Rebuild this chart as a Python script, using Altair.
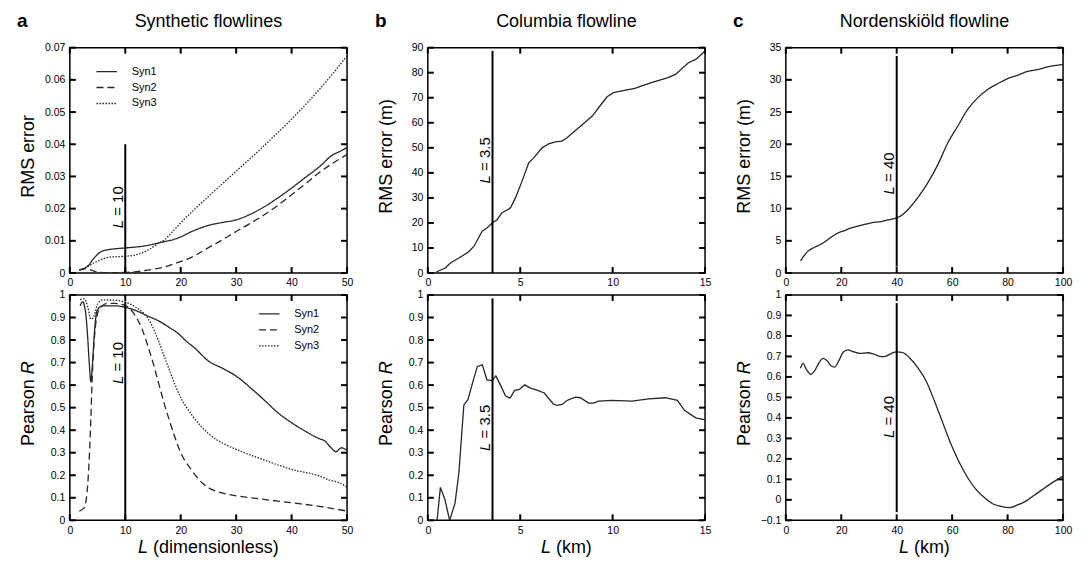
import altair as alt
import pandas as pd

FONT = "Liberation Sans"
INK = "#262626"
W, H = 278, 226
TICK = 6  # inward tick length in pixels

SERIES = ["Syn1", "Syn2", "Syn3"]

# a, top: RMS error vs L (dimensionless)
syn1_rms_L = [1.7, 2.5, 3.2, 4.4, 5.6, 6.5, 8, 10, 13.4, 16.4, 19.4, 22.4, 25, 27.5, 30, 32.5, 35, 37.5, 40, 42.5, 45, 47.5, 48.5, 50]
syn1_rms = [0.0010, 0.0013, 0.0021, 0.0047, 0.0066, 0.0071, 0.0075, 0.0078, 0.0084, 0.0095, 0.0108, 0.0132, 0.0148, 0.0157, 0.0165, 0.0182, 0.0205, 0.0233, 0.0264, 0.0297, 0.0330, 0.0368, 0.0376, 0.0390]
syn2_rms_L = [1.7, 2.8, 4.0, 5.5, 7, 10, 12, 14, 16.4, 19.4, 22.4, 25, 27.5, 30, 32.5, 35, 37.5, 40, 42.5, 45, 47.5, 50]
syn2_rms = [0.0009, 0.0014, 0.0008, 0.0002, 0.0001, 0.0002, 0.0004, 0.0009, 0.0016, 0.0032, 0.0053, 0.0079, 0.0103, 0.0129, 0.0154, 0.0180, 0.0210, 0.0243, 0.0277, 0.0312, 0.0342, 0.0368]
syn3_rms_L = [1.7, 3.2, 4.4, 5.3, 6.2, 7.4, 10, 12.2, 14, 15.8, 17, 18.5, 20, 22.5, 25, 27.5, 30, 32.5, 35, 37.5, 40, 42.5, 45, 47.5, 50]
syn3_rms = [0.0010, 0.0020, 0.0032, 0.0039, 0.0045, 0.0050, 0.0052, 0.0058, 0.0070, 0.0090, 0.0102, 0.0128, 0.0156, 0.0198, 0.0238, 0.0277, 0.0316, 0.0355, 0.0395, 0.0436, 0.0478, 0.0523, 0.0570, 0.0621, 0.0675]

# a, bottom: Pearson R vs L (dimensionless)
syn1_R_L = [1.85, 2.3, 2.8, 3.2, 3.5, 3.8, 4.1, 4.4, 4.9, 5.9, 8, 10, 12, 14, 16, 18, 19.5, 21, 22.5, 25, 27.5, 30, 32.5, 35, 37.5, 40, 42.5, 45, 46, 47, 48, 49, 50]
syn1_R = [0.951, 0.969, 0.93, 0.82, 0.70, 0.615, 0.70, 0.82, 0.93, 0.952, 0.952, 0.945, 0.93, 0.907, 0.885, 0.855, 0.83, 0.795, 0.765, 0.707, 0.675, 0.64, 0.59, 0.535, 0.478, 0.433, 0.395, 0.362, 0.352, 0.325, 0.305, 0.322, 0.31]
syn2_R_L = [1.7, 2.6, 3.2, 3.68, 4.1, 4.7, 5.3, 6.8, 8, 10, 11, 12, 13, 14, 15, 16, 17, 18, 19, 20, 22, 24, 26, 28, 30, 35, 40, 45, 50]
syn2_R = [0.041, 0.056, 0.15, 0.374, 0.67, 0.877, 0.936, 0.963, 0.963, 0.953, 0.935, 0.90, 0.85, 0.78, 0.70, 0.61, 0.52, 0.44, 0.365, 0.30, 0.222, 0.163, 0.133, 0.118, 0.109, 0.093, 0.078, 0.062, 0.041]
syn3_R_L = [1.85, 2.6, 3.2, 3.8, 4.4, 5.0, 5.9, 8, 10, 12, 13, 14, 15, 16, 17, 18, 19, 20, 22, 25, 28, 30, 33, 35, 40, 45, 47, 48, 50]
syn3_R = [0.98, 0.983, 0.95, 0.893, 0.908, 0.96, 0.978, 0.977, 0.968, 0.944, 0.926, 0.899, 0.855, 0.796, 0.73, 0.665, 0.60, 0.545, 0.468, 0.385, 0.337, 0.315, 0.286, 0.268, 0.226, 0.197, 0.177, 0.172, 0.148]

# b: Columbia flowline
col_rms_L = [0.45, 0.95, 1.22, 1.68, 2.2, 2.5, 2.94, 3.2, 3.48, 3.75, 4.0, 4.47, 4.74, 5.1, 5.46, 5.73, 6.18, 6.54, 6.9, 7.26, 7.53, 8.16, 8.9, 9.24, 9.7, 10.05, 10.5, 11.2, 12.1, 13.0, 13.4, 14.1, 14.5, 15.0]
col_rms = [0.4, 2.0, 4.0, 6.0, 8.4, 10.7, 16.7, 18.0, 20.0, 21.3, 24.0, 26.0, 30.0, 36.7, 44.0, 46.0, 50.0, 51.6, 52.4, 52.7, 54.0, 58.0, 62.7, 66.0, 70.4, 72.0, 72.7, 73.7, 76.0, 78.0, 79.3, 84.0, 85.3, 88.7]
col_R_L = [0.5, 0.68, 0.92, 1.18, 1.47, 1.68, 1.95, 2.17, 2.42, 2.68, 2.95, 3.2, 3.48, 3.68, 3.93, 4.2, 4.45, 4.7, 4.95, 5.24, 5.53, 5.9, 6.3, 6.6, 6.8, 7.0, 7.26, 7.53, 7.98, 8.25, 8.7, 8.97, 9.24, 9.96, 11.05, 11.95, 12.85, 13.5, 13.9, 14.5, 15.0]
col_R = [0.0, 0.146, 0.094, 0.0, 0.075, 0.21, 0.512, 0.535, 0.61, 0.683, 0.69, 0.623, 0.62, 0.641, 0.60, 0.553, 0.542, 0.577, 0.581, 0.601, 0.588, 0.578, 0.565, 0.535, 0.515, 0.51, 0.514, 0.532, 0.547, 0.544, 0.52, 0.52, 0.529, 0.532, 0.529, 0.539, 0.544, 0.532, 0.487, 0.455, 0.446]

# c: Nordenskiöld flowline
nor_rms_L = [5.3, 8, 10.4, 12.8, 15.8, 18.2, 20.6, 23.6, 27.2, 30.8, 34.4, 38, 40, 42.2, 44.6, 47.6, 51.2, 54.8, 58.4, 62, 65.6, 69.2, 72.8, 76.4, 80, 83.6, 87.2, 90.8, 94.4, 100]
nor_rms = [1.9, 3.4, 4.0, 4.5, 5.4, 6.1, 6.5, 7.0, 7.4, 7.8, 8.0, 8.35, 8.55, 9.1, 10.1, 11.7, 14.0, 16.8, 20.2, 22.8, 25.4, 27.2, 28.5, 29.4, 30.2, 30.7, 31.3, 31.6, 32.0, 32.4]
nor_R_L = [5.3, 6.2, 7.4, 9.0, 10.4, 12, 13.4, 15, 16.4, 17.6, 19.1, 20.6, 22.4, 24.2, 26.6, 29.6, 32, 34.4, 36.2, 38, 40, 42.2, 44.6, 47.6, 50.6, 53.6, 56.6, 59.6, 62.6, 65.6, 68.6, 71.6, 74.6, 77.6, 80.6, 83.6, 86.6, 89.6, 92.6, 95.6, 100]
nor_R = [0.642, 0.666, 0.637, 0.613, 0.63, 0.67, 0.691, 0.678, 0.653, 0.648, 0.678, 0.719, 0.732, 0.724, 0.715, 0.718, 0.71, 0.699, 0.702, 0.714, 0.722, 0.719, 0.694, 0.645, 0.58, 0.483, 0.377, 0.271, 0.182, 0.108, 0.051, 0.011, -0.019, -0.032, -0.038, -0.025, -0.006, 0.022, 0.051, 0.079, 0.116]

# chosen L markers: (L, line bottom, line top, label start)
mark_a_top = (10, 0.0, 0.040, 0.0139)
mark_a_bot = (10, 0.0, 0.97, 0.605)
mark_b_top = (3.5, 0.0, 88.7, 35.8)
mark_b_bot = (3.5, 0.0, 0.985, 0.308)
mark_c_top = (40, 1.0, 33.7, 12.2)
mark_c_bot = (40, -0.06, 0.96, 0.302)

# tick values
X_A = [0, 10, 20, 30, 40, 50]
X_B = [0, 5, 10, 15]
X_C = [0, 20, 40, 60, 80, 100]
Y_A_RMS = [0, 0.01, 0.02, 0.03, 0.04, 0.05, 0.06, 0.07]
Y_R = [0, 0.1, 0.2, 0.3, 0.4, 0.5, 0.6, 0.7, 0.8, 0.9, 1]
Y_B_RMS = [0, 10, 20, 30, 40, 50, 60, 70, 80, 90]
Y_C_RMS = [0, 5, 10, 15, 20, 25, 30, 35]
Y_C_R = [-0.1, 0, 0.1, 0.2, 0.3, 0.4, 0.5, 0.6, 0.7, 0.8, 0.9, 1]

DASHES = [[1, 0], [7, 4], [1.5, 1.5]]

# ---------------- helpers ----------------
CW = {' ': .278, 'P': .667, 'e': .556, 'a': .556, 'r': .333, 's': .5, 'o': .556, 'n': .556,
      'R': .722, 'L': .556, '(': .333, ')': .333, 'd': .556, 'i': .222, 'm': .833, 'l': .222,
      'k': .5, '=': .584, '.': .278, 'M': .833, 'S': .667}


def tw(s, size):
    return sum(CW.get(c, .556) for c in s) * size


def place(parts, size):
    out, pos = [], 0.0
    for t, it in parts:
        out.append((t, it, pos))
        pos += tw(t + ' ', size)
    return out, pos - tw(' ', size)


ONE = pd.DataFrame({"k": [0]})


def axis(vals):
    return alt.Axis(values=vals, ticks=False, domain=False, grid=False, labelPadding=5,
                    labelFontSize=10.5, labelFont=FONT, labelColor="black", labelFlush=False,
                    labelOverlap=False, labelExpr="format(datum.value, '~g')", title=None)


def multi_df(pairs):
    rows = []
    for name, xs, ys in pairs:
        for a, b in zip(xs, ys):
            rows.append({"series": name, "x": a, "y": b})
    return pd.DataFrame(rows)


def panel(df, xdom, ydom, xticks, yticks, marker, note_rest, ytitle, col_title=None, letter=None,
          xtitle=None, legend_xy=None, interp="monotone"):
    xs = alt.Scale(domain=xdom, nice=False, zero=False)
    ys = alt.Scale(domain=ydom, nice=False, zero=False)
    xa, ya = axis(xticks), axis(yticks)
    X = alt.X("x:Q", scale=xs, axis=xa)
    Y = alt.Y("y:Q", scale=ys, axis=ya)
    layers = []

    # inward ticks on all four sides (tick length of TICK px expressed in data units)
    dy = (ydom[1] - ydom[0]) * TICK / H
    dx = (xdom[1] - xdom[0]) * TICK / W
    rows_v = []
    for v in xticks:
        rows_v.append({"x": v, "y": ydom[0], "y2": ydom[0] + dy})
        rows_v.append({"x": v, "y": ydom[1] - dy, "y2": ydom[1]})
    rows_h = []
    for v in yticks:
        rows_h.append({"y": v, "x": xdom[0], "x2": xdom[0] + dx})
        rows_h.append({"y": v, "x": xdom[1] - dx, "x2": xdom[1]})
    layers.append(alt.Chart(pd.DataFrame(rows_v)).mark_rule(color="black", strokeWidth=2).encode(
        x=X, y=Y, y2=alt.Y2("y2:Q")))
    layers.append(alt.Chart(pd.DataFrame(rows_h)).mark_rule(color="black", strokeWidth=2).encode(
        x=X, x2=alt.X2("x2:Q"), y=Y))

    enc = dict(x=X, y=Y)
    if legend_xy is not None:
        enc["strokeDash"] = alt.StrokeDash(
            "series:N", scale=alt.Scale(domain=SERIES, range=DASHES),
            legend=alt.Legend(title=None, orient="none", legendX=legend_xy[0], legendY=legend_xy[1],
                              symbolType="stroke", symbolSize=420, symbolStrokeWidth=1.4,
                              symbolStrokeColor=INK, labelFontSize=11, labelFont=FONT,
                              labelColor="black", labelOffset=14, rowPadding=0, padding=0))
    layers.append(alt.Chart(df).mark_line(color=INK, strokeWidth=1.3, clip=True,
                                          interpolate=interp).encode(**enc))

    # L marker line
    L, y0, y1, ys0 = marker
    mdf = pd.DataFrame({"x": [L], "y": [y0], "y2": [y1]})
    layers.append(alt.Chart(mdf).mark_rule(color="black", strokeWidth=2).encode(
        x=X, y=Y, y2=alt.Y2("y2:Q")))

    # rotated "L = .." label
    ndf = pd.DataFrame({"x": [L], "y": [ys0]})
    layers.append(alt.Chart(ndf).mark_text(text="L", angle=270, align="left", baseline="alphabetic",
                                           dy=-2.5, fontSize=15, fontStyle="italic",
                                           color="black").encode(x=X, y=Y))
    layers.append(alt.Chart(ndf).mark_text(text=note_rest, angle=270, align="left",
                                           baseline="alphabetic", dx=tw("L ", 15), dy=-2.5,
                                           fontSize=15, color="black").encode(x=X, y=Y))

    # y title (rotated, mixed italic)
    placed, total = place(ytitle, 18)
    start = 109 + total / 2
    for t, it, off in placed:
        layers.append(alt.Chart(ONE).mark_text(text=t, angle=270, align="left", baseline="alphabetic",
                                               fontSize=18, fontStyle="italic" if it else "normal",
                                               color="black").encode(x=alt.value(-36), y=alt.value(start - off)))
    # x title
    if xtitle is not None:
        placed, total = place(xtitle, 18)
        x0 = W / 2 - total / 2
        for t, it, off in placed:
            layers.append(alt.Chart(ONE).mark_text(text=t, align="left", baseline="alphabetic",
                                                   fontSize=18, fontStyle="italic" if it else "normal",
                                                   color="black").encode(x=alt.value(x0 + off), y=alt.value(H + 33)))
    if col_title is not None:
        layers.append(alt.Chart(ONE).mark_text(text=col_title, align="center", baseline="alphabetic",
                                               fontSize=18, color="black").encode(x=alt.value(W / 2), y=alt.value(-21)))
    if letter is not None:
        layers.append(alt.Chart(ONE).mark_text(text=letter, align="left", baseline="alphabetic",
                                               fontSize=19, fontWeight="bold", color="black").encode(x=alt.value(-53), y=alt.value(-21)))
    return alt.layer(*layers).properties(width=W, height=H)


df_a_top = multi_df([("Syn1", syn1_rms_L, syn1_rms), ("Syn2", syn2_rms_L, syn2_rms), ("Syn3", syn3_rms_L, syn3_rms)])
df_a_bot = multi_df([("Syn1", syn1_R_L, syn1_R), ("Syn2", syn2_R_L, syn2_R), ("Syn3", syn3_R_L, syn3_R)])
df_b_top = pd.DataFrame({"x": col_rms_L, "y": col_rms})
df_b_bot = pd.DataFrame({"x": col_R_L, "y": col_R})
df_c_top = pd.DataFrame({"x": nor_rms_L, "y": nor_rms})
df_c_bot = pd.DataFrame({"x": nor_R_L, "y": nor_R})

RMS = [("RMS", False), ("error", False)]
RMS_M = [("RMS", False), ("error", False), ("(m)", False)]
PEARSON = [("Pearson", False), ("R", True)]

a_top = panel(df_a_top, [0, 50], [0, 0.07], X_A, Y_A_RMS, mark_a_top, "= 10", RMS,
              col_title="Synthetic flowlines", letter="a", legend_xy=(26, 13))
a_bot = panel(df_a_bot, [0, 50], [0, 1], X_A, Y_R, mark_a_bot, "= 10", PEARSON,
              xtitle=[("L", True), ("(dimensionless)", False)], legend_xy=(189, 8))
b_top = panel(df_b_top, [0, 15], [0, 90], X_B, Y_B_RMS, mark_b_top, "= 3.5", RMS_M,
              col_title="Columbia flowline", letter="b", interp="linear")
b_bot = panel(df_b_bot, [0, 15], [0, 1], X_B, Y_R, mark_b_bot, "= 3.5", PEARSON,
              xtitle=[("L", True), ("(km)", False)], interp="linear")
c_top = panel(df_c_top, [0, 100], [0, 35], X_C, Y_C_RMS, mark_c_top, "= 40", RMS_M,
              col_title="Nordenskiöld flowline", letter="c")
c_bot = panel(df_c_bot, [0, 100], [-0.1, 1], X_C, Y_C_R, mark_c_bot, "= 40", PEARSON,
              xtitle=[("L", True), ("(km)", False)])

chart = alt.concat(a_top, b_top, c_top, a_bot, b_bot, c_bot, columns=3,
                   spacing={"row": 22, "column": 81}, bounds="flush").resolve_scale(
    strokeDash="independent").resolve_legend(strokeDash="independent").properties(
    padding={"left": 8, "top": 2, "right": 5, "bottom": 0}
).configure(font=FONT).configure_view(stroke="black", strokeWidth=1.5)

chart.save("out.html", embed_options={"renderer": "svg", "actions": False})
